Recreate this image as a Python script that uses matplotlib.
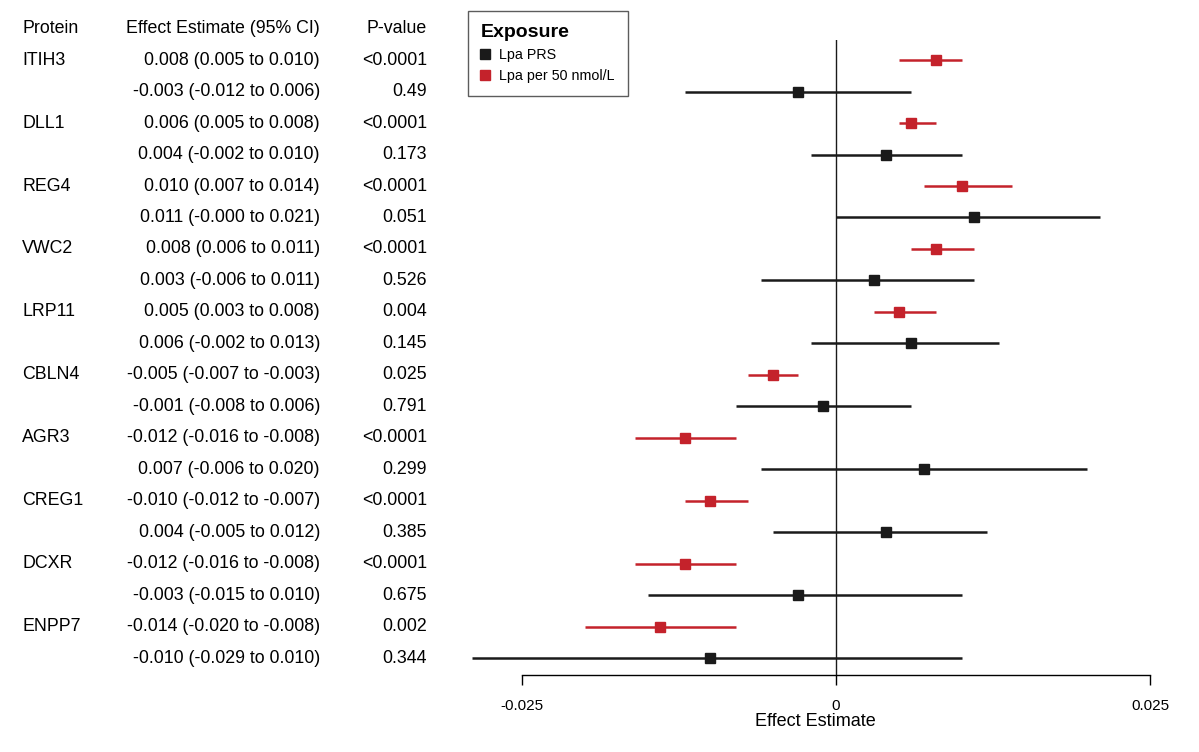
import matplotlib.pyplot as plt
from matplotlib.lines import Line2D
from matplotlib.transforms import blended_transform_factory

plt.rcParams['font.family'] = ['Liberation Sans', 'DejaVu Sans']

# data: each protein has two rows (Lpa per 50 nmol/L first, then Lpa PRS)
proteins = ['ITIH3', 'DLL1', 'REG4', 'VWC2', 'LRP11', 'CBLN4', 'AGR3', 'CREG1', 'DCXR', 'ENPP7']

est_lpa = [0.008, 0.006, 0.010, 0.008, 0.005, -0.005, -0.012, -0.010, -0.012, -0.014]
lo_lpa = [0.005, 0.005, 0.007, 0.006, 0.003, -0.007, -0.016, -0.012, -0.016, -0.020]
hi_lpa = [0.010, 0.008, 0.014, 0.011, 0.008, -0.003, -0.008, -0.007, -0.008, -0.008]
p_lpa = ['<0.0001', '<0.0001', '<0.0001', '<0.0001', '0.004', '0.025', '<0.0001', '<0.0001', '<0.0001', '0.002']

est_prs = [-0.003, 0.004, 0.011, 0.003, 0.006, -0.001, 0.007, 0.004, -0.003, -0.010]
lo_prs = [-0.012, -0.002, -0.000, -0.006, -0.002, -0.008, -0.006, -0.005, -0.015, -0.029]
hi_prs = [0.006, 0.010, 0.021, 0.011, 0.013, 0.006, 0.020, 0.012, 0.010, 0.010]
p_prs = ['0.49', '0.173', '0.051', '0.526', '0.145', '0.791', '0.299', '0.385', '0.675', '0.344']

red = '#c4222b'
black = '#1a1a1a'

W, H = 1199, 752
fig = plt.figure(figsize=(W / 100, H / 100), dpi=100)

# forest panel
ax = fig.add_axes([440 / W, (H - 675) / H, (1190 - 440) / W, (675 - 40) / H])
px_per_unit = 12560.0
ax.set_xlim((440 - 836) / px_per_unit, (1190 - 836) / px_per_unit)
ax.set_ylim(19.54, -0.64)

for i in range(len(proteins)):
    y_r = 2 * i
    y_b = 2 * i + 1
    ax.plot([lo_lpa[i], hi_lpa[i]], [y_r, y_r], color=red, lw=1.8, solid_capstyle='butt')
    ax.plot(est_lpa[i], y_r, 's', color=red, ms=7.5)
    ax.plot([lo_prs[i], hi_prs[i]], [y_b, y_b], color=black, lw=1.8, solid_capstyle='butt')
    ax.plot(est_prs[i], y_b, 's', color=black, ms=7.5)

ax.axvline(0, color=black, lw=1.0)

for s in ['top', 'right', 'left']:
    ax.spines[s].set_visible(False)
ax.spines['bottom'].set_bounds(-0.025, 0.025)
ax.spines['bottom'].set_linewidth(1.0)
ax.set_yticks([])
ax.set_xticks([-0.025, 0, 0.025])
ax.set_xticklabels(['-0.025', '0', '0.025'])
ax.tick_params(axis='x', length=7, width=1.0, labelsize=11, pad=10)
ax.set_xlabel('Effect Estimate', fontsize=13, labelpad=0)

# legend
handles = [Line2D([], [], marker='s', color=black, ls='', ms=7),
           Line2D([], [], marker='s', color=red, ls='', ms=7)]
leg = ax.legend(handles, ['Lpa PRS', 'Lpa per 50 nmol/L'], title='Exposure',
                loc='upper left', bbox_to_anchor=((468 - 440) / 750, 1 + 29 / 635),
                frameon=True, fancybox=False, edgecolor='#333333', fontsize=10.3,
                title_fontsize=14, handlelength=0.6, handletextpad=0.7,
                borderpad=0.9, labelspacing=0.5, alignment='left', borderaxespad=0)
leg.get_title().set_fontweight('bold')
leg.get_frame().set_linewidth(1.0)

# text table on the left
tr = blended_transform_factory(fig.transFigure, ax.transData)
fs = 12.8
fig.text(22 / W, -1, 'Protein', transform=tr, ha='left', va='center', fontsize=fs)
fig.text(320 / W, -1, 'Effect Estimate (95% CI)', transform=tr, ha='right', va='center', fontsize=fs)
fig.text(427 / W, -1, 'P-value', transform=tr, ha='right', va='center', fontsize=fs)

for i, name in enumerate(proteins):
    y_r = 2 * i
    y_b = 2 * i + 1
    fig.text(22 / W, y_r, name, transform=tr, ha='left', va='center', fontsize=fs)
    fig.text(320 / W, y_r, f'{est_lpa[i]:.3f} ({lo_lpa[i]:.3f} to {hi_lpa[i]:.3f})',
             transform=tr, ha='right', va='center', fontsize=fs)
    fig.text(427 / W, y_r, p_lpa[i], transform=tr, ha='right', va='center', fontsize=fs)
    fig.text(320 / W, y_b, f'{est_prs[i]:.3f} ({lo_prs[i]:.3f} to {hi_prs[i]:.3f})',
             transform=tr, ha='right', va='center', fontsize=fs)
    fig.text(427 / W, y_b, p_prs[i], transform=tr, ha='right', va='center', fontsize=fs)

fig.savefig('out.png', dpi=100)
